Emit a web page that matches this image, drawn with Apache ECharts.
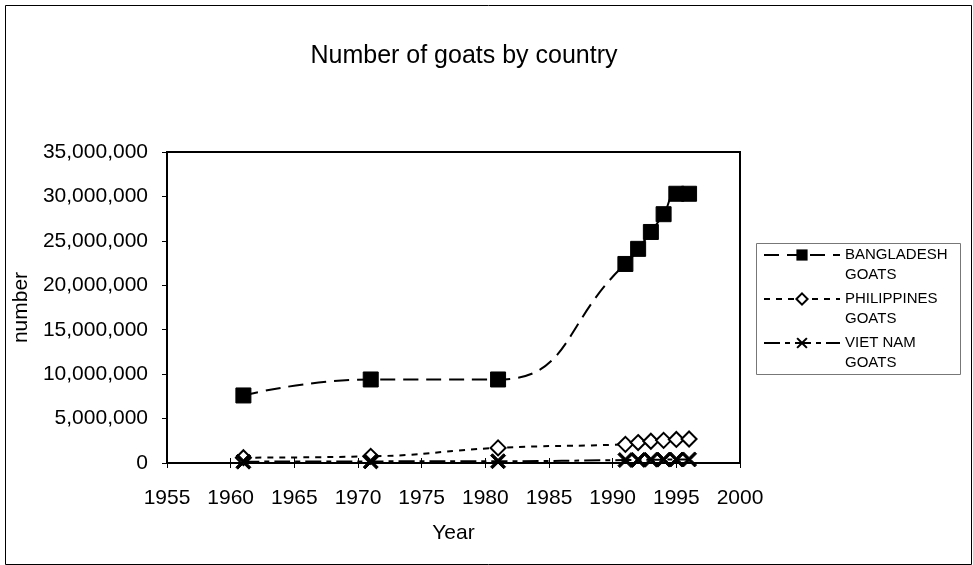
<!DOCTYPE html>
<html>
<head>
<meta charset="utf-8">
<script src="https://cdn.jsdelivr.net/npm/echarts@6/dist/echarts.min.js"></script>
<style>
  html, body { margin: 0; padding: 0; background: #fff; }
  #chart { width: 973px; height: 565px; }
</style>
</head>
<body>
<div id="chart"></div>
<script>
// Survey years
const years = [1961, 1971, 1981, 1991, 1992, 1993, 1994, 1995, 1996];

// Goat head counts per country
const bangladesh = [7600000, 9400000, 9400000, 22400000, 24100000, 26000000, 28000000, 30300000, 30300000];
const philippines = [600000, 750000, 1700000, 2100000, 2300000, 2450000, 2550000, 2650000, 2700000];
const vietnam = [150000, 180000, 200000, 330000, 350000, 370000, 380000, 390000, 400000];

const seriesNames = ['BANGLADESH\nGOATS', 'PHILIPPINES\nGOATS', 'VIET NAM\nGOATS'];

const pairs = (vals) => years.map((y, i) => [y, vals[i]]);

// Cross marker built from two thin diagonal bars
const crossPath = 'path://M0,1.27L1.27,0L5,3.73L8.73,0L10,1.27L6.27,5L10,8.73L8.73,10L5,6.27L1.27,10L0,8.73L3.73,5Z';

const thousands = (v) => v.toLocaleString('en-US');

const font = 'Liberation Sans, Arial, sans-serif';
const axisText = { fontFamily: font, fontSize: 21, color: '#000' };

const chart = echarts.init(document.getElementById('chart'), null, { renderer: 'canvas' });

chart.setOption({
  animation: false,
  backgroundColor: '#fff',
  title: {
    text: 'Number of goats by country',
    left: 459, top: 39, textAlign: 'center',
    textStyle: { fontFamily: font, fontSize: 25, fontWeight: 'normal', color: '#000' }
  },
  grid: {
    left: 167, right: 233, top: 152, bottom: 102,
    show: true, borderColor: '#000', borderWidth: 2, backgroundColor: 'transparent'
  },
  legend: {
    orient: 'vertical',
    left: 763, top: 225,
    padding: 0,
    itemGap: -16,
    itemWidth: 76, itemHeight: 14,
    textStyle: { fontFamily: font, fontSize: 15, color: '#000', lineHeight: 20 },
    // blank first line keeps the icon level with the country name
    formatter: (name) => ' \n' + name,
    data: seriesNames
  },
  xAxis: [{
    type: 'value', min: 1955, max: 2000, interval: 5,
    name: 'Year', nameLocation: 'middle', nameGap: 60,
    nameTextStyle: axisText,
    axisLine: { show: true, onZero: false, lineStyle: { color: '#000', width: 2 } },
    axisTick: { show: true, length: 5, lineStyle: { color: '#000', width: 1 } },
    axisLabel: Object.assign({ margin: 25, formatter: (v) => String(v) }, axisText),
    splitLine: { show: false }
  }, {
    type: 'value', min: 1955, max: 2000, interval: 5, position: 'bottom',
    axisLine: { show: false },
    axisTick: { show: true, inside: true, length: 5, lineStyle: { color: '#000', width: 1 } },
    axisLabel: { show: false },
    splitLine: { show: false }
  }],
  yAxis: [{
    type: 'value', min: 0, max: 35000000, interval: 5000000,
    name: 'number', nameLocation: 'middle', nameGap: 118, nameRotate: 90,
    nameTextStyle: axisText,
    axisLine: { show: true, lineStyle: { color: '#000', width: 2 } },
    axisTick: { show: true, length: 5, lineStyle: { color: '#000', width: 1 } },
    axisLabel: Object.assign({ margin: 19, formatter: thousands }, axisText),
    splitLine: { show: false }
  }],
  graphic: [{
    // outer chart frame
    type: 'rect', left: 3, top: 3, z: -10,
    shape: { width: 966, height: 559 },
    style: { fill: 'none', stroke: '#000', lineWidth: 1 }
  }, {
    // legend frame
    type: 'rect', left: 754, top: 241, z: -10,
    shape: { width: 204, height: 131 },
    style: { fill: 'none', stroke: '#777', lineWidth: 1 }
  }],
  series: [{
    name: seriesNames[0], type: 'line', smooth: 0.5,
    data: pairs(bangladesh),
    symbol: 'rect', symbolSize: 15,
    lineStyle: { color: '#000', width: 2, type: [15, 8] },
    itemStyle: { color: '#000', borderColor: '#000' },
    z: 3
  }, {
    name: seriesNames[1], type: 'line', smooth: 0.5,
    data: pairs(philippines),
    symbol: 'diamond', symbolSize: 15,
    lineStyle: { color: '#000', width: 2, type: [6, 6] },
    itemStyle: { color: '#fff', borderColor: '#000', borderWidth: 2 },
    z: 2
  }, {
    name: seriesNames[2], type: 'line', smooth: 0.5,
    data: pairs(vietnam),
    symbol: crossPath, symbolSize: 15,
    lineStyle: { color: '#000', width: 2, type: [16, 5, 5, 5] },
    itemStyle: { color: '#000', borderColor: '#000' },
    z: 4
  }]
});
</script>
</body>
</html>
